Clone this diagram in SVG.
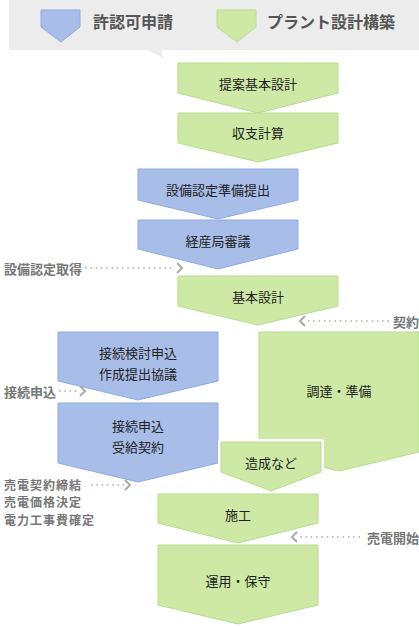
<svg xmlns="http://www.w3.org/2000/svg" width="419" height="627" viewBox="0 0 419 627">
<style>
text{font-family:"Noto Sans CJK JP","Noto Sans",sans-serif;dominant-baseline:central}
.g{fill:#cde9a5;stroke:#b8dd8c;stroke-width:1}
.b{fill:#a9bde9;stroke:#8faae6;stroke-width:1}
.t{font-size:13px;fill:#222;text-anchor:middle}
.lbl{font-size:13px;fill:#777;font-weight:bold}
.lbs{font-size:12px;fill:#777;font-weight:bold;letter-spacing:1px}
.leg{font-size:16px;fill:#555;font-weight:bold}
.dot{stroke:#aaa;stroke-width:1.5;stroke-dasharray:1.5 3.8;fill:none}
.arr{stroke:#aaa;stroke-width:2;fill:none}
</style>
<g id="header">
<rect x="9" y="0" width="410" height="50" fill="#ececec"/>
<polygon points="147,50 163,58 162,50" fill="#ececec"/>
<polygon class="b" points="41,10 80,10 80,27 61,42 41,27"/>
<text class="leg" x="93" y="21">許認可申請</text>
<polygon class="g" points="217,10 256,10 256,27 237,42 217,27"/>
<text class="leg" x="267" y="21">プラント設計構築</text>
</g>
<g id="n1"><polygon class="g" points="178,63 338,63 338,93 258,113 178,93"/><text class="t" x="258" y="83">提案基本設計</text></g>
<g id="n2"><polygon class="g" points="178,113 338,113 338,143 258,162 178,143"/><text class="t" x="258" y="132">収支計算</text></g>
<g id="n3"><polygon class="b" points="138,169 298,169 298,200 218,219 138,200"/><text class="t" x="218" y="189">設備認定準備提出</text></g>
<g id="n4"><polygon class="b" points="138,220 298,220 298,249 218,269 138,249"/><text class="t" x="218" y="240">経産局審議</text></g>
<g id="n5"><polygon class="g" points="178,276 338,276 338,306 258,325 178,306"/><text class="t" x="258" y="296">基本設計</text></g>
<g id="n6"><polygon class="b" points="58,332 218,332 218,381 138,400 58,381"/><text class="t" x="138" y="352">接続検討申込</text><text class="t" x="138" y="373">作成提出協議</text></g>
<g id="n7"><polygon class="b" points="58,403 218,403 218,463 138,482 58,463"/><text class="t" x="138" y="425">接続申込</text><text class="t" x="138" y="446">受給契約</text></g>
<g id="n8"><polygon class="g" points="259,332 419,332 419,452 339,471 259,452"/><text class="t" x="339" y="390">調達・準備</text></g>
<g id="n9"><polygon points="221,442 321,442 321,472 271,491 221,472" fill="#cde9a5" stroke="#fff" stroke-width="6" stroke-linejoin="round"/><polygon class="g" points="221,442 321,442 321,472 271,491 221,472"/><text class="t" x="271" y="462">造成など</text></g>
<g id="n10"><polygon class="g" points="158,494 318,494 318,523 238,543 158,523"/><text class="t" x="238" y="514">施工</text></g>
<g id="n11"><polygon class="g" points="158,545 318,545 318,605 238,624 158,605"/><text class="t" x="238" y="580">運用・保守</text></g>
<g id="connectors">
<text class="lbl" x="4" y="268">設備認定取得</text>
<line class="dot" x1="85" y1="268" x2="174" y2="268"/>
<polyline class="arr" points="177,263 182,268 177,273"/>
<text class="lbl" x="393" y="321">契約</text>
<line class="dot" x1="389" y1="321" x2="305" y2="321"/>
<polyline class="arr" points="305,316 300,321 305,326"/>
<text class="lbl" x="4" y="391">接続申込</text>
<line class="dot" x1="59" y1="391" x2="80" y2="391"/>
<polyline class="arr" points="80,386 85,391 80,396"/>
<text class="lbs" x="4" y="484">売電契約締結</text>
<text class="lbs" x="4" y="501.5">売電価格決定</text>
<text class="lbs" x="4" y="519">電力工事費確定</text>
<line class="dot" x1="91" y1="485" x2="125" y2="485"/>
<polyline class="arr" points="125,480 130,485 125,490"/>
<text class="lbl" x="367" y="537">売電開始</text>
<line class="dot" x1="360" y1="537" x2="298" y2="537"/>
<polyline class="arr" points="297,532 292,537 297,542"/>
</g>
</svg>
